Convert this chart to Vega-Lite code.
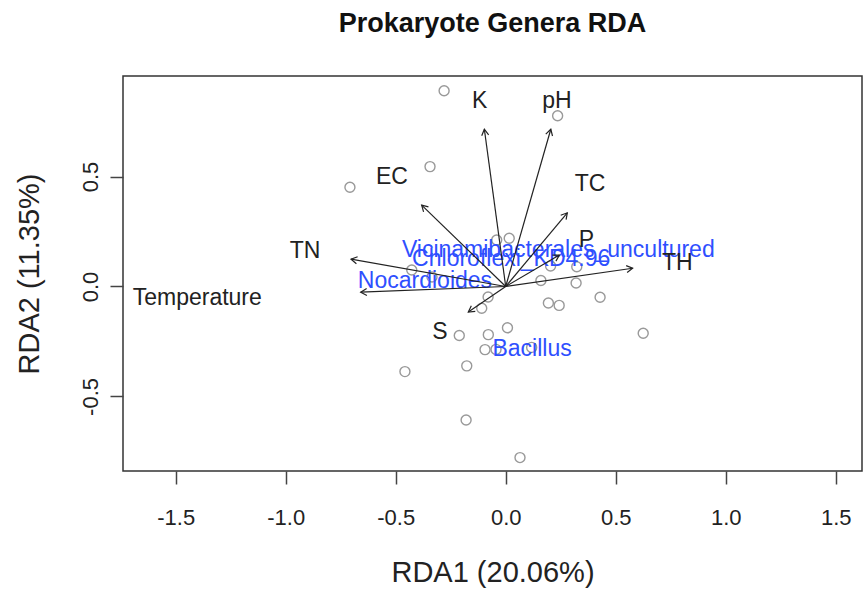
{
  "$schema": "https://vega.github.io/schema/vega-lite/v6.json",
  "width": 739,
  "height": 395,
  "autosize": {"type": "none"},
  "padding": {"left": 123, "top": 76, "right": 3, "bottom": 119},
  "title": {"text": "Prokaryote Genera RDA", "fontSize": 27, "fontWeight": "bold", "anchor": "middle", "frame": "group", "baseline": "alphabetic", "offset": 17, "color": "#111"},
  "config": {
    "font": "Liberation Sans",
    "view": {"stroke": "#333", "strokeWidth": 1.5},
    "axis": {"grid": false, "domain": false}
  },
  "datasets": {
    "sites": [
      {"x": -0.280, "y": 0.890}, {"x": -0.344, "y": 0.545}, {"x": -0.708, "y": 0.451},
      {"x": 0.236, "y": 0.776}, {"x": -0.427, "y": 0.075}, {"x": -0.335, "y": 0.043},
      {"x": -0.041, "y": 0.211}, {"x": 0.016, "y": 0.219}, {"x": 0.204, "y": 0.093},
      {"x": 0.323, "y": 0.090}, {"x": 0.160, "y": 0.027}, {"x": 0.320, "y": 0.016},
      {"x": 0.429, "y": -0.049}, {"x": 0.194, "y": -0.075}, {"x": 0.243, "y": -0.086},
      {"x": -0.080, "y": -0.048}, {"x": -0.109, "y": -0.099}, {"x": 0.008, "y": -0.188},
      {"x": -0.079, "y": -0.219}, {"x": -0.211, "y": -0.223}, {"x": -0.094, "y": -0.287},
      {"x": -0.044, "y": -0.286}, {"x": 0.118, "y": -0.277}, {"x": -0.177, "y": -0.361},
      {"x": -0.458, "y": -0.387}, {"x": -0.180, "y": -0.607}, {"x": 0.065, "y": -0.778},
      {"x": 0.625, "y": -0.213}
    ],
    "env": [
      {"var": "K", "x": -0.097, "y": 0.715, "lx": -0.118, "ly": 0.843},
      {"var": "pH", "x": 0.205, "y": 0.715, "lx": 0.233, "ly": 0.845},
      {"var": "TC", "x": 0.280, "y": 0.335, "lx": 0.383, "ly": 0.465},
      {"var": "P", "x": 0.244, "y": 0.143, "lx": 0.367, "ly": 0.211},
      {"var": "TH", "x": 0.577, "y": 0.083, "lx": 0.780, "ly": 0.108},
      {"var": "EC", "x": -0.382, "y": 0.370, "lx": -0.517, "ly": 0.498},
      {"var": "TN", "x": -0.703, "y": 0.124, "lx": -0.912, "ly": 0.160},
      {"var": "Temperature", "x": -0.659, "y": -0.026, "lx": -1.402, "ly": -0.051},
      {"var": "S", "x": -0.170, "y": -0.116, "lx": -0.299, "ly": -0.207}
    ],
    "species": [
      {"name": "Vicinamibacterales_uncultured", "x": 0.239, "y": 0.168},
      {"name": "Chloroflexi_KD4.96", "x": 0.025, "y": 0.125},
      {"name": "Nocardioides", "x": -0.367, "y": 0.025},
      {"name": "Bacillus", "x": 0.120, "y": -0.283}
    ],
    "one": [{"o": 0}]
  },
  "encoding": {
    "x": {
      "field": "x", "type": "quantitative",
      "scale": {"domain": [-1.7395, 1.6195], "nice": false, "zero": false},
      "axis": {
        "values": [-1.5, -1, -0.5, 0, 0.5, 1, 1.5], "format": ".1f",
        "labelExpr": "replace(datum.label, '\u2212', '-')",
        "tickSize": 13, "tickColor": "#444", "tickWidth": 1.5,
        "labelFontSize": 22, "labelColor": "#222", "labelBaseline": "alphabetic",
        "labelPadding": 40, "labelFlush": false, "labelOverlap": false,
        "title": "RDA1 (20.06%)", "titleFontSize": 29, "titleFontWeight": "normal", "titleColor": "#222",
        "titleX": 369.5, "titleY": 110.7, "titleBaseline": "alphabetic", "titleAlign": "center"
      }
    },
    "y": {
      "field": "y", "type": "quantitative",
      "scale": {"domain": [-0.839, 0.957], "nice": false, "zero": false},
      "axis": {
        "values": [-0.5, 0, 0.5], "format": ".1f",
        "labelExpr": "replace(datum.label, '\u2212', '-')",
        "tickSize": 13, "tickColor": "#444", "tickWidth": 1.5,
        "labelFontSize": 22, "labelColor": "#222", "labelAngle": -90, "labelAlign": "center",
        "labelBaseline": "alphabetic", "labelPadding": 13, "labelFlush": false, "labelOverlap": false,
        "title": "RDA2 (11.35%)", "titleFontSize": 29, "titleFontWeight": "normal", "titleColor": "#222",
        "titleAngle": -90, "titleX": -85, "titleY": 197.5, "titleBaseline": "alphabetic", "titleAlign": "center"
      }
    }
  },
  "layer": [
    {
      "data": {"name": "one"},
      "mark": {"type": "rule", "strokeDash": [1.5, 5.8], "color": "#888", "strokeWidth": 1.5},
      "encoding": {"x": {"datum": 0}, "y": null}
    },
    {
      "data": {"name": "one"},
      "mark": {"type": "rule", "strokeDash": [1.5, 5.8], "color": "#888", "strokeWidth": 1.5},
      "encoding": {"y": {"datum": 0}, "x": null}
    },
    {
      "data": {"name": "sites"},
      "mark": {"type": "point", "shape": "circle", "filled": false, "size": 100, "stroke": "#999999", "strokeWidth": 1.4, "opacity": 1}
    },
    {
      "data": {"name": "species"},
      "mark": {"type": "text", "fontSize": 23, "color": "#2f4fff", "align": "center", "baseline": "middle"},
      "encoding": {"text": {"field": "name"}}
    },
    {
      "data": {"name": "env"},
      "mark": {"type": "rule", "color": "#222", "strokeWidth": 1.2},
      "encoding": {"x2": {"datum": 0}, "y2": {"datum": 0}}
    },
    {
      "data": {"name": "env"},
      "transform": [{"calculate": "atan2(datum.x, datum.y) * 180 / PI", "as": "angle"}],
      "mark": {"type": "point", "shape": "M-0.5,0.866L0,0L0.5,0.866", "filled": false, "size": 196, "stroke": "#222", "strokeWidth": 1.2, "opacity": 1},
      "encoding": {"angle": {"field": "angle", "type": "quantitative", "scale": null}}
    },
    {
      "data": {"name": "env"},
      "mark": {"type": "text", "fontSize": 23, "color": "#222", "align": "center", "baseline": "middle"},
      "encoding": {
        "x": {"field": "lx", "type": "quantitative"},
        "y": {"field": "ly", "type": "quantitative"},
        "text": {"field": "var"}
      }
    }
  ]
}
